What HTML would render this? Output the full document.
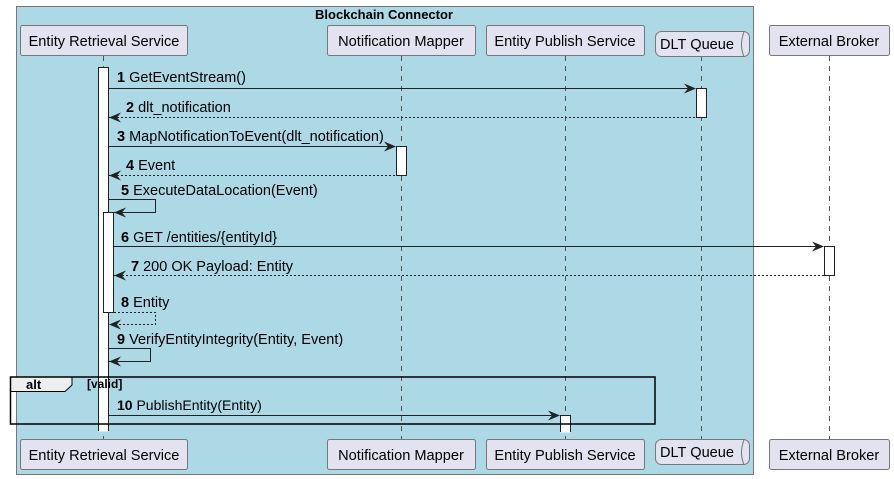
<!DOCTYPE html>
<html><head><meta charset="utf-8"><style>
body{margin:0;background:#fff}
svg{display:block;font-family:"Liberation Sans","DejaVu Sans",sans-serif}
text{fill:#000}
.p{fill:#e2e2f0;stroke:#777;stroke-width:1}
.ll{stroke:#555;stroke-dasharray:5,5;stroke-width:1}
.m{stroke:#222;stroke-width:1;fill:none}
.d{stroke:#222;stroke-width:1;stroke-dasharray:2,2;fill:none}
.a{fill:#fff;stroke:#222;stroke-width:1}
.ah{fill:#222}
.pt{font-size:14.6px}
.ml{font-size:14.5px}
</style></head><body>
<svg width="894" height="479" viewBox="0 0 894 479">
<rect x="16.5" y="6.5" width="737" height="468" fill="#add8e6" stroke="#777"/>
<text x="384" y="19" text-anchor="middle" font-weight="bold" style="font-size:13px">Blockchain Connector</text>
<line class="ll" x1="103.5" y1="56" x2="103.5" y2="439"/>
<line class="ll" x1="401.5" y1="56" x2="401.5" y2="439"/>
<line class="ll" x1="565.5" y1="56" x2="565.5" y2="439"/>
<line class="ll" x1="701.5" y1="56" x2="701.5" y2="439"/>
<line class="ll" x1="829.5" y1="56" x2="829.5" y2="439"/>
<rect class="p" x="20.5" y="25.5" width="167" height="30" rx="2"/><text class="pt" x="104" y="46" text-anchor="middle">Entity Retrieval Service</text>
<rect class="p" x="327.5" y="25.5" width="148" height="30" rx="2"/><text class="pt" x="401" y="46" text-anchor="middle">Notification Mapper</text>
<rect class="p" x="486.5" y="25.5" width="158" height="30" rx="2"/><text class="pt" x="565" y="46" text-anchor="middle">Entity Publish Service</text>
<rect class="p" x="655.5" y="31.5" width="94" height="25" rx="6"/><path d="M744 32 q-5 12.5 0 25" fill="none" stroke="#777"/><text class="pt" x="697" y="49" text-anchor="middle">DLT Queue</text>
<rect class="p" x="769.5" y="25.5" width="120" height="30" rx="2"/><text class="pt" x="829" y="46" text-anchor="middle">External Broker</text>
<rect class="p" x="20.5" y="439.5" width="167" height="30" rx="2"/><text class="pt" x="104" y="460" text-anchor="middle">Entity Retrieval Service</text>
<rect class="p" x="327.5" y="439.5" width="148" height="30" rx="2"/><text class="pt" x="401" y="460" text-anchor="middle">Notification Mapper</text>
<rect class="p" x="486.5" y="439.5" width="158" height="30" rx="2"/><text class="pt" x="565" y="460" text-anchor="middle">Entity Publish Service</text>
<rect class="p" x="655.5" y="439.5" width="94" height="25" rx="6"/><path d="M744 440 q-5 12.5 0 25" fill="none" stroke="#777"/><text class="pt" x="697" y="457" text-anchor="middle">DLT Queue</text>
<rect class="p" x="769.5" y="439.5" width="120" height="30" rx="2"/><text class="pt" x="829" y="460" text-anchor="middle">External Broker</text>
<rect x="98.5" y="67.5" width="10" height="364" fill="#fff" stroke="none"/>
<line x1="98.5" y1="67" x2="98.5" y2="431" stroke="#222"/><line x1="108.5" y1="67" x2="108.5" y2="431" stroke="#222"/><line x1="98" y1="67.5" x2="109" y2="67.5" stroke="#222"/>
<rect class="a" x="103.5" y="212.5" width="10" height="100"/>
<rect class="a" x="696.5" y="88.5" width="10" height="29"/>
<rect class="a" x="396.5" y="146.5" width="10" height="29"/>
<rect class="a" x="824.5" y="246.5" width="10" height="29"/>
<rect x="560.5" y="415.5" width="10" height="17" fill="#fff" stroke="none"/>
<path d="M560.5 432 V415.5 H570.5 V432" fill="none" stroke="#222"/>
<g>
<line class="m" x1="109" y1="88.5" x2="695" y2="88.5"/><path class="ah" d="M696 88.5 l-12 -5 l4 5 l-4 5z"/>
<text class="ml" x="117" y="82"><tspan font-weight="bold">1</tspan> GetEventStream()</text>
<line class="d" x1="109" y1="117.5" x2="696" y2="117.5"/><path class="ah" d="M109 117.5 l12 -5 l-4 5 l4 5z"/>
<text class="ml" x="126" y="112"><tspan font-weight="bold">2</tspan> dlt_notification</text>
<line class="m" x1="109" y1="146.5" x2="395" y2="146.5"/><path class="ah" d="M396 146.5 l-12 -5 l4 5 l-4 5z"/>
<text class="ml" x="117" y="141"><tspan font-weight="bold">3</tspan> MapNotificationToEvent(dlt_notification)</text>
<line class="d" x1="109" y1="175.5" x2="396" y2="175.5"/><path class="ah" d="M109 175.5 l12 -5 l-4 5 l4 5z"/>
<text class="ml" x="126" y="170"><tspan font-weight="bold">4</tspan> Event</text>
<path class="m" d="M109 199.5 H155.5 V212.5 H114"/><path class="ah" d="M114 212.5 l12 -5 l-4 5 l4 5z"/>
<text class="ml" x="121" y="195"><tspan font-weight="bold">5</tspan> ExecuteDataLocation(Event)</text>
<line class="m" x1="114" y1="246.5" x2="823" y2="246.5"/><path class="ah" d="M824 246.5 l-12 -5 l4 5 l-4 5z"/>
<text class="ml" x="121" y="242"><tspan font-weight="bold">6</tspan> GET /entities/{entityId}</text>
<line class="d" x1="114" y1="275.5" x2="824" y2="275.5"/><path class="ah" d="M114 275.5 l12 -5 l-4 5 l4 5z"/>
<text class="ml" x="131" y="271"><tspan font-weight="bold">7</tspan> 200 OK Payload: Entity</text>
<path class="d" d="M114 312.5 H155.5 V324.5 H109"/><path class="ah" d="M109 324.5 l12 -5 l-4 5 l4 5z"/>
<text class="ml" x="121" y="307"><tspan font-weight="bold">8</tspan> Entity</text>
<path class="m" d="M109 348.5 H150.5 V361.5 H109"/><path class="ah" d="M109 361.5 l12 -5 l-4 5 l4 5z"/>
<text class="ml" x="117" y="344"><tspan font-weight="bold">9</tspan> VerifyEntityIntegrity(Entity, Event)</text>
<line class="m" x1="109" y1="415.5" x2="559" y2="415.5"/><path class="ah" d="M560 415.5 l-12 -5 l4 5 l-4 5z"/>
<text x="117" y="410" style="font-size:14px"><tspan font-weight="bold">10</tspan> PublishEntity(Entity)</text>
</g>
<path d="M10.5 377 H72 V385 L65 391.5 H10.5z" fill="#eee" stroke="#000"/>
<rect x="10.5" y="377" width="644.5" height="47" fill="none" stroke="#000" stroke-width="1.5"/>
<text x="26" y="389" font-weight="bold" style="font-size:13px">alt</text>
<text x="87" y="388" font-weight="bold" style="font-size:12px">[valid]</text>
</svg>
</body></html>
